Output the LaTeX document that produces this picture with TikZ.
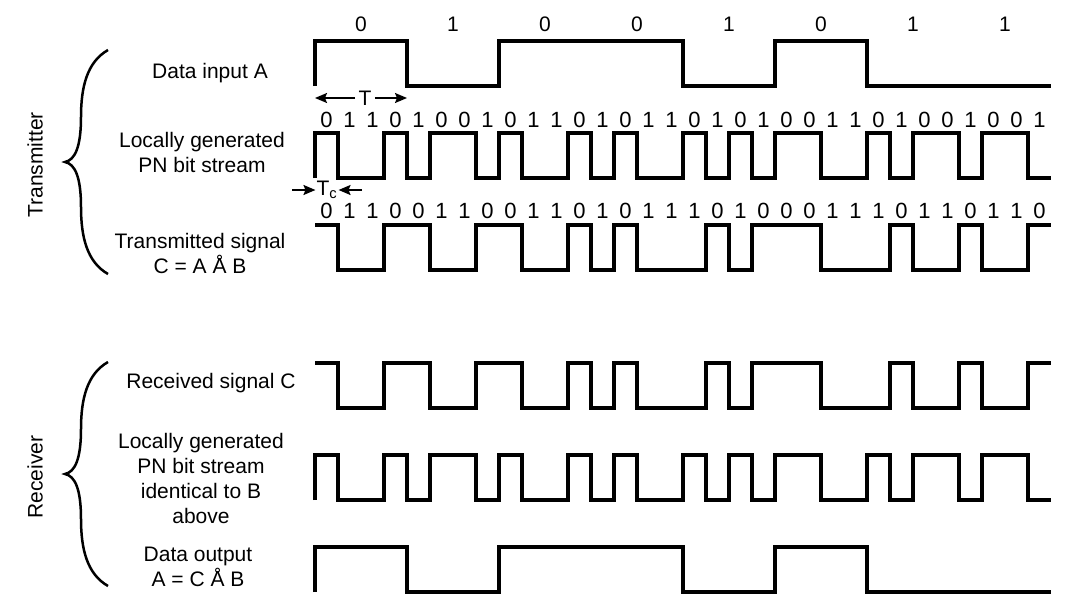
\documentclass[tikz,border=0pt]{standalone}
\usepackage{fontspec}
\setmainfont{Liberation Sans}
\usetikzlibrary{arrows.meta}

\def\bitsA{0,1,0,0,1,0,1,1}
\def\bitsB{0,1,1,0,1,0,0,1,0,1,1,0,1,0,1,1,0,1,0,1,0,0,1,1,0,1,0,0,1,0,0,1}
\def\bitsC{0,1,1,0,0,1,1,0,0,1,1,0,1,0,1,1,1,0,1,0,0,0,1,1,1,0,1,1,0,1,1,0}

% #1 start y, #2 high level, #3 period, #4 bits
\newcommand{\sigwave}[4]{%
  \draw[signal] (315,#1) \foreach \b [count=\i from 0] in #4
    {-- ({315+#3*\i},{#2+45*\b}) -- ({315+#3*(\i+1)},{#2+45*\b})};}

\tikzset{
  signal/.style={line width=3.2pt},
  bracepath/.style={line width=2.5pt},
  arr/.style={line width=1.7pt,-{Stealth[length=12pt,width=10pt,inset=2pt]}},
  sigtext/.style={align=center,font=\fontsize{21}{25}\selectfont},
  sidetext/.style={rotate=90,font=\fontsize{21}{25}\selectfont},
  bit/.style={font=\fontsize{21}{25}\selectfont,inner sep=0pt},
  chip/.style={font=\fontsize{22}{26}\selectfont,inner sep=0pt},
  curlybrace/.pic={
    \draw[bracepath] (43,-112) .. controls (22,-100) and (16,-75) .. (16,-45)
      .. controls (16,-15) and (10,-2) .. (0,0)
      .. controls (10,2) and (16,15) .. (16,45)
      .. controls (16,75) and (22,100) .. (43,112);
  }
}

\begin{document}
\begin{tikzpicture}[x=1pt,y=-1pt]
\useasboundingbox (0,0) rectangle (1068,613);

% transmitter
\pic at (65,162) {curlybrace};
\node[sidetext] (tx) at (35,165) {Transmitter};
\node[sigtext] (inA) at (210,73) {Data input A};
\node[sigtext] (pnB) at (202,152) {Locally generated\\PN bit stream};
\node[sigtext] (txC) at (200,253) {Transmitted signal\\C = A Å B};

\foreach \b [count=\i from 0] in \bitsA
  \node[bit] (a\i) at ({361+92*\i},24) {\b};
\foreach \b [count=\i from 0] in \bitsB
  \node[chip] (b\i) at ({326.5+23*\i},120) {\b};
\foreach \b [count=\i from 0] in \bitsC
  \node[chip] (c\i) at ({326.5+23*\i},211) {\b};

\sigwave{86}{41}{92}{\bitsA}
\sigwave{178}{133}{23}{\bitsB}
\sigwave{225}{225}{23}{\bitsC}

\coordinate (tl) at (315,98);
\coordinate (tr) at (407,98);
\node[sigtext] (T) at (365,98) {T};
\draw[arr] (T) -- (tl);
\draw[arr] (T) -- (tr);

\coordinate (tcl) at (292,190);
\coordinate (tcr) at (362,190);
\node[sigtext,inner sep=1pt] (Tc) at (327,190) {T\textsubscript{c}};
\draw[arr] (tcl) -- (Tc.west);
\draw[arr] (tcr) -- (Tc.east);

% receiver
\pic at (65,474) {curlybrace};
\node[sidetext] (rx) at (35,477) {Receiver};
\node[sigtext] (rxC) at (211,383) {Received signal C};
\node[sigtext] (rxB) at (201,478) {Locally generated\\PN bit stream\\identical to B\\above};
\node[sigtext] (outA) at (198,567) {Data output\\A = C Å B};

\sigwave{363}{363}{23}{\bitsC}
\sigwave{500}{455}{23}{\bitsB}
\sigwave{592}{547}{92}{\bitsA}
\end{tikzpicture}
\end{document}
